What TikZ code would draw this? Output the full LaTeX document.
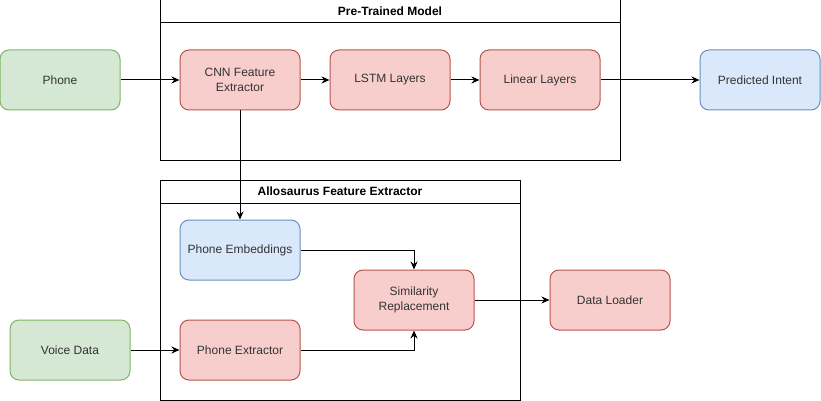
\documentclass[tikz,border=0pt]{standalone}
\usepackage{fontspec}
\setmainfont{Liberation Sans}
\usetikzlibrary{arrows.meta, positioning}

\definecolor{greenfill}{HTML}{D5E8D4}
\definecolor{greenline}{HTML}{82B366}
\definecolor{redfill}{HTML}{F8CECC}
\definecolor{redline}{HTML}{B85450}
\definecolor{bluefill}{HTML}{DAE8FC}
\definecolor{blueline}{HTML}{6C8EBF}
\definecolor{textgrey}{HTML}{333333}

\begin{document}
\begin{tikzpicture}[
      x=1pt, y=-1pt,
      font=\fontsize{12}{14.5}\selectfont,
      box/.style={rectangle, rounded corners=9pt, draw, line width=1pt,
        minimum width=120pt, minimum height=60pt, align=center, text=textgrey},
      inbox/.style={box, fill=greenfill, draw=greenline},
      layer/.style={box, fill=redfill, draw=redline},
      outbox/.style={box, fill=bluefill, draw=blueline},
      group/.style={rectangle, draw, line width=1pt},
      grouptitle/.style={rectangle, draw, line width=1pt, anchor=north,
        minimum height=23pt, font=\fontsize{12}{14.5}\selectfont\bfseries},
      edge/.style={-{Stealth[length=8pt, width=7pt]}, line width=1pt}
    ]
    \useasboundingbox (0,0) rectangle (821,401);

    % pre-trained model
    \node[group, minimum width=460pt, minimum height=160pt] (ptm) at (390,80) {};
    \node[grouptitle, minimum width=460pt] (ptmtitle) at (ptm.north) {Pre-Trained Model};
    \node[layer] (cnn) at (240,80) {CNN Feature\\Extractor};
    \node[layer, right=29pt of cnn] (lstm) {LSTM Layers};
    \node[layer, right=29pt of lstm] (linear) {Linear Layers};

    % allosaurus feature extractor
    \node[group, minimum width=360pt, minimum height=220pt] (allo) at (340,290) {};
    \node[grouptitle, minimum width=360pt] (allotitle) at (allo.north) {Allosaurus Feature Extractor};
    \node[outbox] (emb) at (240,250) {Phone Embeddings};
    \node[layer] (ext) at (240,350) {Phone Extractor};
    \node[layer] (sim) at (414,300) {Similarity\\Replacement};

    % outside
    \node[inbox] (phone) at (60,80) {Phone};
    \node[outbox] (intent) at (760,80) {Predicted Intent};
    \node[inbox] (voice) at (70,350) {Voice Data};
    \node[layer] (loader) at (610,300) {Data Loader};

    \draw[edge] (phone) -- (cnn);
    \draw[edge] (cnn) -- (lstm);
    \draw[edge] (lstm) -- (linear);
    \draw[edge] (linear) -- (intent);
    \draw[edge] (cnn) -- (emb);
    \draw[edge] (emb) -| (sim);
    \draw[edge] (ext) -| (sim);
    \draw[edge] (voice) -- (ext);
    \draw[edge] (sim) -- (loader);
\end{tikzpicture}
\end{document}
